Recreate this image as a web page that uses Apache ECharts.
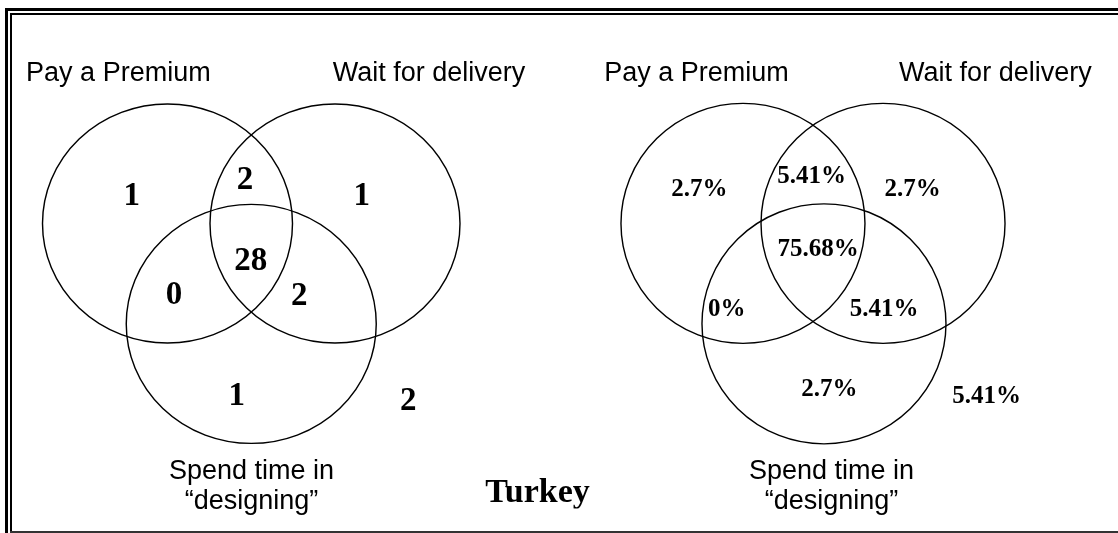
<!DOCTYPE html>
<html lang="en">
<head>
    <meta charset="UTF-8">
    <title>Turkey</title>
    <style>
        html, body { margin: 0; padding: 0; background: #fff; }
    </style>
</head>
<body>
<div id="main" style="width: 1118px;height:533px;"></div>
<script src="https://cdn.jsdelivr.net/npm/echarts@6/dist/echarts.min.js"></script>
<script>
    // data
    var setNames = ['Pay a Premium', 'Wait for delivery', 'Spend time in\n“designing”'];
    var regionNames = ['A', 'AB', 'B', 'ABC', 'AC', 'BC', 'C', 'none'];
    var countValues = [1, 2, 1, 28, 0, 2, 1, 2];
    var percentValues = [2.7, 5.41, 2.7, 75.68, 0, 5.41, 2.7, 5.41];
    var titleText = 'Turkey';

    // layout of each panel, in units of circle radius
    var panels = [
        {
            grid: {left: 1.25, top: 18, width: 500, height: 478},
            circleSize: [250, 239],
            centers: [[-0.67, 0.28], [0.67, 0.28], [0, -0.56]],
            setLabelPos: [[-1.063, 1.531], [1.422, 1.531], [0.002, -1.922]],
            regionPos: [[-0.956, 0.505], [-0.05, 0.638], [0.884, 0.505], [-0.004, -0.039],
                [-0.618, -0.318], [0.384, -0.332], [-0.116, -1.169], [1.256, -1.211]],
            fontSize: 33
        },
        {
            grid: {left: 569, top: 17, width: 488, height: 480},
            circleSize: [244, 240],
            centers: [[-0.574, 0.28], [0.574, 0.28], [0.09, -0.557]],
            setLabelPos: [[-0.955, 1.525], [1.495, 1.525], [0.152, -1.914]],
            regionPos: [[-0.932, 0.558], [-0.011, 0.669], [0.817, 0.558], [0.043, 0.064],
                [-0.707, -0.436], [0.582, -0.436], [0.134, -1.108], [1.424, -1.164]],
            fontSize: 25
        }
    ];

    var panelLabels = [
        countValues.map(function (v) { return String(v); }),
        percentValues.map(function (v) { return v + '%'; })
    ];

    var grids = [], xAxes = [], yAxes = [], series = [];

    panels.forEach(function (p, i) {
        grids.push(p.grid);
        xAxes.push({type: 'value', gridIndex: i, min: -2, max: 2, show: false});
        yAxes.push({type: 'value', gridIndex: i, min: -2, max: 2, show: false});

        // the three sets
        series.push({
            type: 'scatter',
            xAxisIndex: i,
            yAxisIndex: i,
            silent: true,
            symbol: 'circle',
            symbolSize: p.circleSize,
            itemStyle: {
                color: 'rgba(0,0,0,0)',
                borderColor: '#000',
                borderWidth: 1.4,
                opacity: 1
            },
            data: p.centers
        });

        // set names
        series.push({
            type: 'scatter',
            xAxisIndex: i,
            yAxisIndex: i,
            silent: true,
            symbolSize: 0,
            itemStyle: {opacity: 1},
            label: {
                show: true,
                position: 'inside',
                formatter: function (d) { return setNames[d.dataIndex]; },
                fontFamily: 'Liberation Sans, Arial, sans-serif',
                fontSize: 27,
                lineHeight: 30,
                color: '#000'
            },
            data: p.setLabelPos
        });

        // region values
        series.push({
            type: 'scatter',
            xAxisIndex: i,
            yAxisIndex: i,
            silent: true,
            symbolSize: 0,
            itemStyle: {opacity: 1},
            label: {
                show: true,
                position: 'inside',
                formatter: function (d) { return panelLabels[i][d.dataIndex]; },
                fontFamily: 'Liberation Serif, Times New Roman, serif',
                fontWeight: 'bold',
                fontSize: p.fontSize,
                color: '#000'
            },
            data: p.regionPos
        });
    });

    var myChart = echarts.init(document.getElementById('main'));

    var option = {
        animation: false,
        backgroundColor: '#fff',
        grid: grids,
        xAxis: xAxes,
        yAxis: yAxes,
        series: series,
        graphic: [
            // double frame
            {type: 'line', shape: {x1: 5, y1: 9.5, x2: 1118, y2: 9.5}, style: {stroke: '#000', lineWidth: 3}},
            {type: 'line', shape: {x1: 6.5, y1: 8, x2: 6.5, y2: 533}, style: {stroke: '#000', lineWidth: 3}},
            {type: 'line', shape: {x1: 10, y1: 14, x2: 1118, y2: 14}, style: {stroke: '#000', lineWidth: 2}},
            {type: 'line', shape: {x1: 11, y1: 13, x2: 11, y2: 533}, style: {stroke: '#000', lineWidth: 2}},
            {type: 'line', shape: {x1: 10, y1: 532, x2: 1118, y2: 532}, style: {stroke: '#333', lineWidth: 2}},
            {
                type: 'text',
                x: 537.5,
                y: 493,
                z: 10,
                style: {
                    text: titleText,
                    fill: '#000',
                    font: 'bold 34px "Liberation Serif", "Times New Roman", serif',
                    textAlign: 'center',
                    textVerticalAlign: 'middle'
                }
            },
            // the descender of the title is cut in the original
            {type: 'rect', z: 11, shape: {x: 470, y: 508.5, width: 140, height: 22}, style: {fill: '#fff'}}
        ]
    };

    myChart.setOption(option);
</script>
</body>
</html>
